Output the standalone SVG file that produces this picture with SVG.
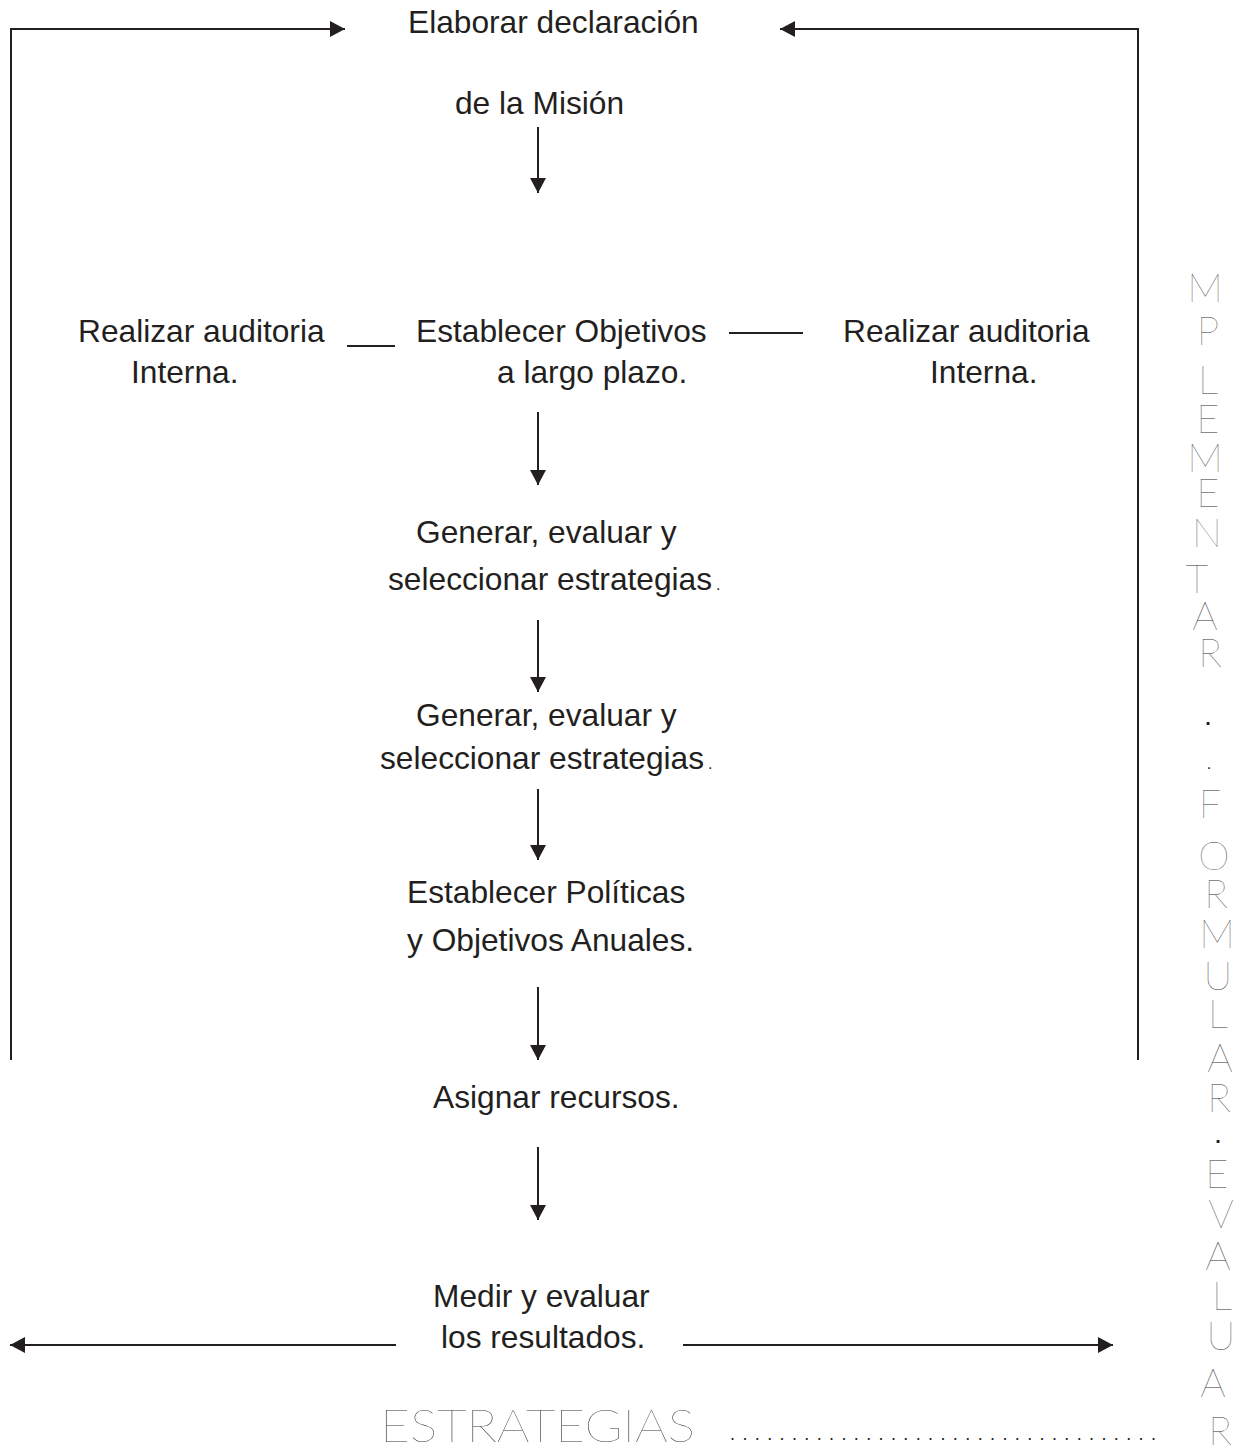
<svg xmlns="http://www.w3.org/2000/svg" width="1240" height="1448" viewBox="0 0 1240 1448">
<style>
.t{font-family:"Liberation Sans",Arial,sans-serif;font-size:31.7px;fill:#231f20}
.sm{font-family:"Liberation Sans",Arial,sans-serif;font-size:16px;fill:#231f20}
.thin{font-family:Lato,"Open Sans",sans-serif;font-weight:100;font-size:40px;fill:#333;text-anchor:middle}
.dot{font-family:"Liberation Sans",Arial,sans-serif;font-weight:bold;font-size:20px;fill:#231f20;text-anchor:middle}
.ln{stroke:#231f20;stroke-width:2;fill:none}
</style>
<defs>
<marker id="ah" markerWidth="15" markerHeight="16" refX="15" refY="8" orient="auto" markerUnits="userSpaceOnUse">
<path d="M0,0 L15,8 L0,16 Z" fill="#231f20"/>
</marker>
</defs>
<rect width="1240" height="1448" fill="#fff"/>

<g id="connectors">
<polyline class="ln" points="11,1060 11,29 345,29" marker-end="url(#ah)"/>
<polyline class="ln" points="1138,1060 1138,29 780,29" marker-end="url(#ah)"/>
<line class="ln" x1="538" y1="127" x2="538" y2="193" marker-end="url(#ah)"/>
<line class="ln" x1="347" y1="346" x2="395" y2="346"/>
<line class="ln" x1="729" y1="333" x2="803" y2="333"/>
<line class="ln" x1="538" y1="412" x2="538" y2="485" marker-end="url(#ah)"/>
<line class="ln" x1="538" y1="620" x2="538" y2="692" marker-end="url(#ah)"/>
<line class="ln" x1="538" y1="789" x2="538" y2="860" marker-end="url(#ah)"/>
<line class="ln" x1="538" y1="987" x2="538" y2="1060" marker-end="url(#ah)"/>
<line class="ln" x1="538" y1="1147" x2="538" y2="1220" marker-end="url(#ah)"/>
<line class="ln" x1="396" y1="1345" x2="10" y2="1345" marker-end="url(#ah)"/>
<line class="ln" x1="683" y1="1345" x2="1113" y2="1345" marker-end="url(#ah)"/>
</g>

<g id="mision">
<text class="t" x="408" y="33">Elaborar declaración</text>
<text class="t" x="455" y="114">de la Misión</text>
</g>
<g id="auditoria-izq">
<text class="t" x="78" y="342">Realizar auditoria</text>
<text class="t" x="131" y="383">Interna.</text>
</g>
<g id="objetivos">
<text class="t" x="416" y="342">Establecer Objetivos</text>
<text class="t" x="497" y="383">a largo plazo.</text>
</g>
<g id="auditoria-der">
<text class="t" x="843" y="342">Realizar auditoria</text>
<text class="t" x="930" y="383">Interna.</text>
</g>
<g id="estrategias1">
<text class="t" x="416" y="543">Generar, evaluar y</text>
<text class="t" x="388" y="590">seleccionar estrategias</text>
<text class="sm" x="716" y="590">.</text>
</g>
<g id="estrategias2">
<text class="t" x="416" y="726">Generar, evaluar y</text>
<text class="t" x="380" y="769">seleccionar estrategias</text>
<text class="sm" x="708" y="769">.</text>
</g>
<g id="politicas">
<text class="t" x="407" y="903">Establecer Políticas</text>
<text class="t" x="407" y="951">y Objetivos Anuales.</text>
</g>
<g id="recursos">
<text class="t" x="433" y="1108">Asignar recursos.</text>
</g>
<g id="medir">
<text class="t" x="433" y="1307">Medir y evaluar</text>
<text class="t" x="441" y="1348">los resultados.</text>
</g>

<g id="pie">
<text class="thin" style="text-anchor:start;font-size:45px" x="380" y="1442" textLength="315" lengthAdjust="spacingAndGlyphs">ESTRATEGIAS</text>
<text class="sm" style="font-size:18px" x="730" y="1440" textLength="426" lengthAdjust="spacing">...................................</text>
</g>

<g id="columna">
<text class="thin" x="1205" y="302">M</text>
<text class="thin" x="1208" y="345">P</text>
<text class="thin" x="1208" y="394">L</text>
<text class="thin" x="1208" y="433">E</text>
<text class="thin" x="1205" y="472">M</text>
<text class="thin" x="1208" y="507">E</text>
<text class="thin" x="1207" y="547">N</text>
<text class="thin" x="1197" y="593">T</text>
<text class="thin" x="1205" y="630">A</text>
<text class="thin" x="1210" y="667">R</text>
<text class="dot" x="1208" y="725">.</text>
<text class="sm" style="text-anchor:middle" x="1209" y="769">.</text>
<text class="thin" x="1210" y="818">F</text>
<text class="thin" x="1214" y="870">O</text>
<text class="thin" x="1216" y="908">R</text>
<text class="thin" x="1217" y="948">M</text>
<text class="thin" x="1218" y="990">U</text>
<text class="thin" x="1218" y="1028">L</text>
<text class="thin" x="1220" y="1072">A</text>
<text class="thin" x="1219" y="1112">R</text>
<text class="dot" x="1218" y="1143">.</text>
<text class="thin" x="1217" y="1188">E</text>
<text class="thin" x="1221" y="1228">V</text>
<text class="thin" x="1218" y="1270">A</text>
<text class="thin" x="1222" y="1310">L</text>
<text class="thin" x="1221" y="1350">U</text>
<text class="thin" x="1213" y="1397">A</text>
<text class="thin" x="1220" y="1445">R</text>
</g>
</svg>
